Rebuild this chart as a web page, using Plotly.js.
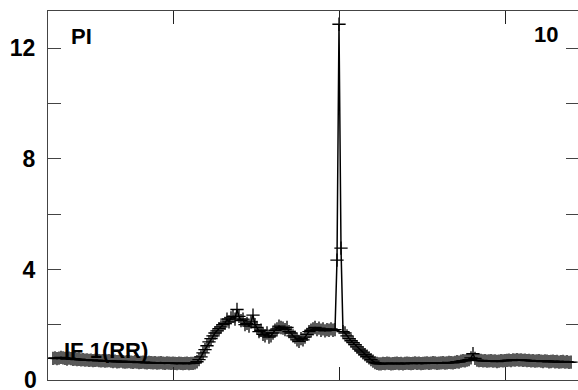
<!DOCTYPE html>
<html>
<head>
<meta charset="utf-8">
<script src="https://cdn.plot.ly/plotly-3.0.1.min.js"></script>
<style>
html,body{margin:0;padding:0;overflow:hidden;background:#fff;}
#chart{width:580px;height:390px;}
</style>
</head>
<body>
<div id="chart"></div>
<script>
var baselineEarly = [
  0.78,0.8,0.77,0.79,0.82,0.8,0.78,0.76,0.79,0.77,
  0.75,0.76,0.74,0.75,0.73,0.74,0.72,0.73,0.71,0.72,
  0.7,0.71,0.72,0.7,0.69,0.7,0.68,0.69,0.7,0.68,
  0.67,0.68,0.66,0.67,0.68,0.66,0.65,0.66,0.67,0.65,
  0.64,0.66,0.65,0.63,0.64,0.65,0.63,0.62,0.64,0.63,
  0.62,0.63,0.61,0.62,0.63,0.61,0.6,0.62,0.61,0.6,
  0.61,0.6,0.59,0.61,0.6,0.59,0.6,0.61,0.59,0.6,
  0.6
];
var riseAndPlateau = [
  0.62,0.66,0.74,0.84,0.98,1.1,1.24,1.38,1.5,1.6,
  1.7,1.78,1.86,1.92,2.0,2.05,2.2,2.1,2.25,2.3,
  2.2,2.55,2.3,2.15,2.2,2.0,2.05,1.95,2.1,2.35,
  2.0,1.9,1.75,1.8,1.65,1.6,1.7,1.55,1.6,1.7,
  1.8,1.85,1.95,1.9,1.88,1.82,1.9,1.75,1.7,1.6,
  1.55,1.45,1.4,1.5,1.45,1.55,1.65,1.75,1.8,1.85,
  1.9,1.82,1.88,1.8,1.85,1.78,1.82,1.8,1.85,1.8,1.82
];
var spike = [4.34,12.87,4.77];
var decline = [
  1.75,1.7,1.6,1.5,1.42,1.35,1.28,1.2,1.12,1.05,
  0.98,0.92,0.86,0.8,0.74,0.68,0.63,0.6,0.58
];
var baselineLate = [
  0.58,0.6,0.59,0.61,0.6,0.58,0.59,0.6,0.61,0.59,
  0.6,0.58,0.6,0.61,0.6,0.59,0.6,0.62,0.6,0.61,
  0.59,0.6,0.61,0.62,0.6,0.61,0.63,0.62,0.6,0.61,
  0.62,0.63,0.61,0.62,0.64,0.63,0.62,
  0.64,0.66,0.65,0.68,0.7,0.69,0.72,0.74,0.8,0.95,0.78,
  0.72,0.7,0.71,0.69,0.7,0.68,0.69,0.7,0.68,0.69,
  0.67,0.68,0.7,0.69,0.7,0.71,0.72,0.7,0.73,0.72,
  0.74,0.72,0.73,0.71,0.72,0.7,0.71,0.69,0.7,0.68,
  0.69,0.7,0.68,0.67,0.69,0.68,0.66,0.67,0.68,0.66,
  0.67,0.65,0.66,0.67,0.65,0.66,0.64,0.65
];
var yTickVals = [0,2,4,6,8,10,12];
var yTickText = ['','','4','','8','','12'];
var yZeroLabel = '0';
var xTickVals = [60,143,226];
var labelTopLeft = 'PI';
var labelTopRight = '10';
var labelBottom = 'IF 1(RR)';

var yValues = baselineEarly.concat(riseAndPlateau, spike, decline, baselineLate);
var xValues = [];
for (var i = 0; i < yValues.length; i++) xValues.push(i);

var tickFont = {family:'Liberation Sans, Arial, sans-serif', size:23, color:'#000', weight:'bold'};
var noteFont = {family:'Liberation Sans, Arial, sans-serif', size:22, color:'#000', weight:'bold'};

var trace = {
  x: xValues, y: yValues, type:'scatter', mode:'lines+markers',
  line:{color:'#000', width:1.5},
  marker:{symbol:'cross-thin', size:9.5, color:'#000', line:{color:'#000', width:1.3}},
  hoverinfo:'skip'
};

var layout = {
  width:580, height:390,
  margin:{l:48, r:1, t:11, b:10, pad:0},
  paper_bgcolor:'#fff', plot_bgcolor:'#fff',
  showlegend:false,
  xaxis:{
    range:[-2.5,263], tickmode:'array', tickvals:xTickVals, showticklabels:false,
    ticks:'inside', ticklen:13, tickwidth:1, tickcolor:'#222',
    showline:true, linecolor:'#444', linewidth:1, mirror:'ticks',
    showgrid:false, zeroline:false
  },
  yaxis:{
    range:[0,13.35], tickmode:'array', tickvals:yTickVals, ticktext:yTickText,
    ticks:'inside', ticklen:13, tickwidth:1, tickcolor:'#444',
    showline:true, linecolor:'#444', linewidth:1, mirror:'ticks',
    showgrid:false, zeroline:false, tickfont:tickFont, ticklabelstandoff:7
  },
  annotations:[
    {text:yZeroLabel, xref:'paper', yref:'y', x:0, y:0, xanchor:'right', yanchor:'middle', xshift:-9, showarrow:false, font:tickFont},
    {text:labelTopLeft, xref:'paper', yref:'paper', x:0.039, y:0.932, xanchor:'left', yanchor:'middle', showarrow:false, font:noteFont},
    {text:labelTopRight, xref:'paper', yref:'paper', x:0.937, y:0.935, xanchor:'center', yanchor:'middle', showarrow:false, font:noteFont},
    {text:labelBottom, xref:'paper', yref:'paper', x:0.109, y:0.081, xanchor:'center', yanchor:'middle', showarrow:false, font:noteFont}
  ]
};

Plotly.newPlot('chart', [trace], layout, {displayModeBar:false, staticPlot:true});
</script>
</body>
</html>
